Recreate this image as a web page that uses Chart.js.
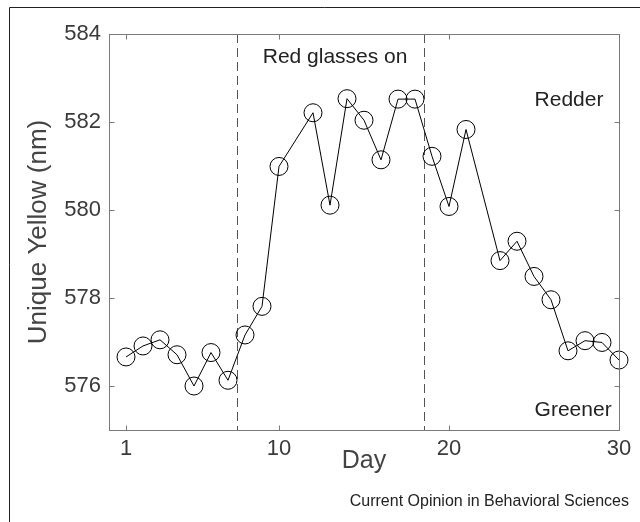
<!DOCTYPE html>
<html>
<head>
<meta charset="utf-8">
<script src="https://cdn.jsdelivr.net/npm/chart.js@4.4.1/dist/chart.umd.min.js"></script>
<style>
  html, body { margin: 0; padding: 0; background: #fff; }
  #wrap { width: 640px; height: 522px; }
</style>
</head>
<body>
<div id="wrap"><canvas id="yellowChart" width="640" height="522"></canvas></div>
<script>
// DATA
const days = [1, 2, 3, 4, 5, 6, 7, 8, 9, 10, 12, 13, 14, 15, 16, 17, 18, 19, 20, 21, 23, 24, 25, 26, 27, 28, 29, 30];
const uniqueYellow = [576.66, 576.91, 577.05, 576.71, 576.00, 576.76, 576.13, 577.16, 577.81, 580.99,
  582.21, 580.11, 582.53, 582.04, 581.14, 582.52, 582.52, 581.22, 580.08, 581.83,
  578.85, 579.29, 578.49, 577.96, 576.80, 577.03, 576.99, 576.59];
const xTicks = [1, 10, 20, 30];
const yTicks = [576, 578, 580, 582, 584];
const glassesPeriod = [7.5, 18.5]; // dashed lines: glasses put on / taken off

const FONT = "'Liberation Sans', Arial, Helvetica, sans-serif";

// box round the plot, inward ticks, dashed lines and the text notes
const framePlugin = {
  id: 'frame',
  beforeDatasetsDraw(chart) {
    const { ctx, chartArea: a, scales: { x } } = chart;
    ctx.save();
    ctx.strokeStyle = '#555';
    ctx.lineWidth = 1;
    ctx.setLineDash([9, 5]);
    glassesPeriod.forEach(d => {
      const px = Math.round(x.getPixelForValue(d)) + 0.5;
      ctx.beginPath();
      ctx.moveTo(px, a.top);
      ctx.lineTo(px, a.bottom);
      ctx.stroke();
    });
    ctx.restore();
  },
  afterDraw(chart) {
    const { ctx, chartArea: a, scales: { x, y } } = chart;
    const L = Math.round(a.left) + 0.5, R = Math.round(a.right) + 0.5;
    const T = Math.round(a.top) + 0.5, B = Math.round(a.bottom) + 0.5;
    ctx.save();
    // outer figure border (top and left only are in the picture)
    ctx.strokeStyle = '#222';
    ctx.lineWidth = 1;
    ctx.beginPath();
    ctx.moveTo(9.5, 522);
    ctx.lineTo(9.5, 7.5);
    ctx.lineTo(640, 7.5);
    ctx.stroke();

    // axes box
    ctx.strokeStyle = '#7a7a7a';
    ctx.strokeRect(L, T, R - L, B - T);
    ctx.beginPath();
    xTicks.forEach(v => {
      const px = Math.round(x.getPixelForValue(v)) + 0.5;
      ctx.moveTo(px, B); ctx.lineTo(px, B - 5);
      ctx.moveTo(px, T); ctx.lineTo(px, T + 5);
    });
    yTicks.forEach(v => {
      const py = Math.round(y.getPixelForValue(v)) + 0.5;
      ctx.moveTo(L, py); ctx.lineTo(L + 5, py);
      ctx.moveTo(R, py); ctx.lineTo(R - 5, py);
    });
    ctx.stroke();

    // notes
    ctx.fillStyle = '#222';
    ctx.textAlign = 'center';
    ctx.textBaseline = 'middle';
    ctx.font = '21px ' + FONT;
    ctx.fillText('Red glasses on', x.getPixelForValue(13.3), y.getPixelForValue(583.48));
    ctx.fillText('Redder', x.getPixelForValue(27.06), y.getPixelForValue(582.5));
    ctx.fillText('Greener', x.getPixelForValue(27.3), y.getPixelForValue(575.45));

    ctx.textAlign = 'right';
    ctx.font = '16px ' + FONT;
    ctx.fillText('Current Opinion in Behavioral Sciences', 629, 502);
    ctx.restore();
  }
};

const ctx = document.getElementById('yellowChart').getContext('2d');
const yellowChart = new Chart(ctx, {
  type: 'line',
  data: {
    datasets: [{
      data: days.map((d, i) => ({ x: d, y: uniqueYellow[i] })),
      borderColor: '#000',
      borderWidth: 1,
      pointStyle: 'circle',
      pointRadius: 9,
      pointBorderWidth: 1,
      pointBorderColor: '#000',
      pointBackgroundColor: 'rgba(0,0,0,0)',
      fill: false,
      tension: 0,
      clip: false,
    }],
  },
  options: {
    responsive: false,
    animation: false,
    devicePixelRatio: 1,
    layout: { padding: { left: 0, top: 34, right: 21, bottom: 0 } },
    plugins: { legend: { display: false }, tooltip: { enabled: false } },
    scales: {
      x: {
        type: 'linear',
        min: 0,
        max: 30,
        afterBuildTicks: s => { s.ticks = xTicks.map(v => ({ value: v })); },
        afterFit: s => { s.height = 92; },
        grid: { display: false, drawTicks: false },
        border: { display: false },
        ticks: { padding: 6, color: '#3a3a3a', font: { family: FONT, size: 22 } },
        title: { display: true, text: 'Day', color: '#444', padding: { top: 0, bottom: 46 }, font: { family: FONT, size: 25 } },
      },
      y: {
        min: 575,
        max: 584,
        afterBuildTicks: s => { s.ticks = yTicks.map(v => ({ value: v })); },
        afterFit: s => { s.width = 109; },
        grid: { display: false, drawTicks: false },
        border: { display: false },
        ticks: { padding: 8, color: '#3a3a3a', font: { family: FONT, size: 22 } },
        title: { display: true, text: 'Unique Yellow (nm)', color: '#444', padding: { top: 23, bottom: 0 }, font: { family: FONT, size: 26 } },
      },
    },
  },
  plugins: [framePlugin],
});
</script>
</body>
</html>
